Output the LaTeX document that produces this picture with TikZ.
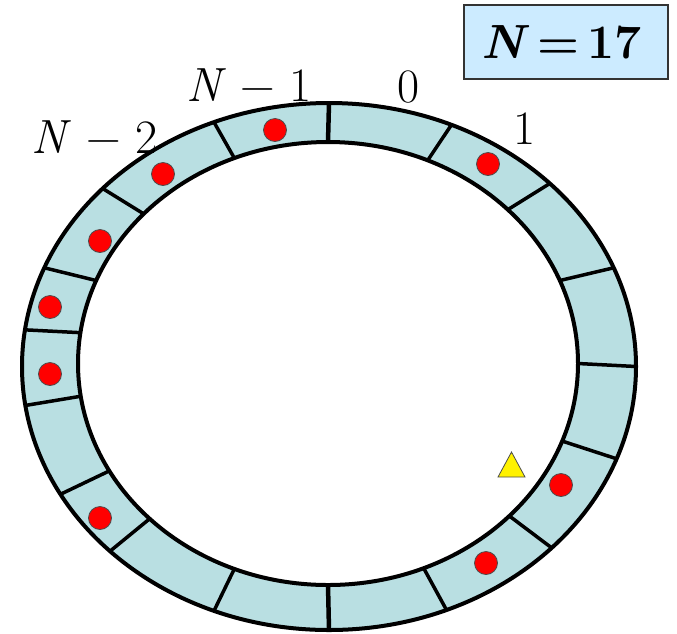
\documentclass[tikz,border=0pt]{standalone}
\definecolor{ringblue}{HTML}{B9DFE2}
\definecolor{boxblue}{HTML}{CCEBFF}
\begin{document}
\begin{tikzpicture}[x=1pt,y=-1pt,
  slotlabel/.style={font=\fontsize{48}{52}\selectfont},
  token/.style={fill=red,draw=black!70,line width=0.8pt},
  countbox/.style={draw=black!80,line width=1.5pt,fill=boxblue,text width=170pt,
    align=left,inner xsep=17pt,minimum height=74pt,font=\fontsize{48}{52}\selectfont}]
  \useasboundingbox (0,0) rectangle (677,633);

  \fill[ringblue,even odd rule] (329,366.5) ellipse [x radius=307pt,y radius=263.5pt]
    (328,363.5) ellipse [x radius=250pt,y radius=221.5pt];

  \foreach \t in {66.5,44,22,0,-20.5,-43.5,-67.5,-112,-135.5,-151,-171.5,172,158,137.5,112}
  \draw[line width=3.5pt] ({328+250*cos(\t)},{363.5-221.5*sin(\t)}) -- ({329+307*cos(\t)},{366.5-263.5*sin(\t)});
  \foreach \t in {90,-90}
  \draw[line width=4.5pt] ({328+250*cos(\t)},{363.5-221.5*sin(\t)}) -- ({329+307*cos(\t)},{366.5-263.5*sin(\t)});

  \draw[line width=4pt] (329,366.5) ellipse [x radius=307pt,y radius=263.5pt];
  \draw[line width=4pt] (328,363.5) ellipse [x radius=250pt,y radius=221.5pt];

  \foreach \p in {(275,130),(488,164),(163,174),(100,241),(50,307),(50,374),(100,518),(486,563),(561,485)}
  \filldraw[token] \p circle [radius=11.5pt];

  \filldraw[fill=yellow,draw=black!70,line width=0.8pt] (511.5,452) -- (525,477) -- (498,477) -- cycle;

  \node[slotlabel] (nm1) at (249,85.5) {\textit{N} − 1};
  \node[slotlabel] (n0) at (408.5,87.5) {0};
  \node[slotlabel] (n1) at (525,128.5) {1};
  \node[slotlabel] (nm2) at (94.5,137) {\textit{N} − 2};

  \node[countbox] (count) at (566,42) {\textbf{\textit{N}\,=\,17}};
\end{tikzpicture}
\end{document}
